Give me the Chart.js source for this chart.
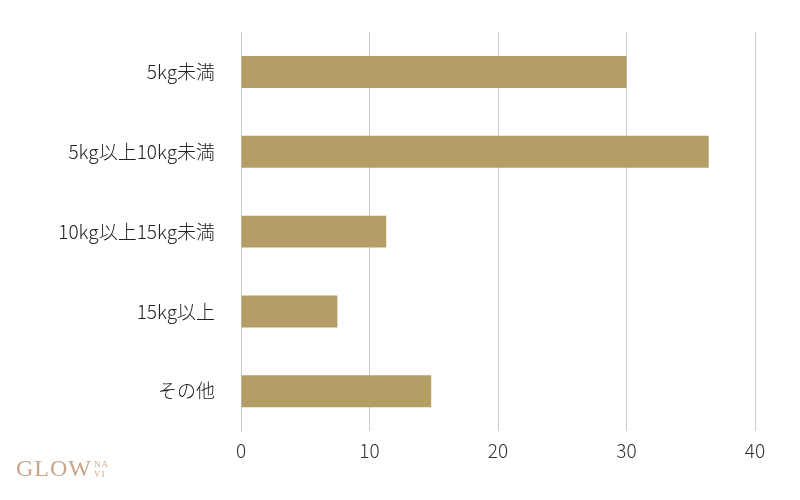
<!DOCTYPE html>
<html><head><meta charset="utf-8">
<script src="https://cdn.jsdelivr.net/npm/chart.js@4/dist/chart.umd.min.js"></script>
<style>html,body{margin:0;background:#fff}#w{position:relative;width:800px;height:500px}
#logo{position:absolute;left:16px;top:455px;font-family:'Liberation Serif',serif;font-size:24px;color:#c9a58a;letter-spacing:1px}
#logo span{font-size:9px;display:inline-block;line-height:10px;vertical-align:top;margin-left:2px;margin-top:4px}</style>
</head><body><div id="w"><canvas id="c" width="800" height="500"></canvas>
<div id="logo">GLOW<span>NA<br>VI</span></div></div>
<script>
const categories=["5kg未満","5kg以上10kg未満","10kg以上15kg未満","15kg以上","その他"];
const values=[30,36.4,11.3,7.5,14.8];
new Chart(document.getElementById('c'),{type:'bar',
data:{labels:categories,datasets:[{data:values,backgroundColor:'#b59d66',barPercentage:0.8,categoryPercentage:0.5}]},
options:{indexAxis:'y',responsive:false,animation:false,
layout:{padding:{top:32,right:45,bottom:30,left:10}},
plugins:{legend:{display:false},tooltip:{enabled:false}},
scales:{x:{min:0,max:40,ticks:{stepSize:10,color:'#333',padding:8,font:{family:'Noto Sans CJK JP',size:19,weight:300}},grid:{color:'#ccc',drawTicks:false},border:{display:false}},
y:{afterFit:s=>{s.width=231},ticks:{color:'#222',padding:18,font:{family:'Noto Sans CJK JP',size:19,weight:300}},grid:{display:false},border:{color:'#ccc'}}}}});
</script></body></html>
